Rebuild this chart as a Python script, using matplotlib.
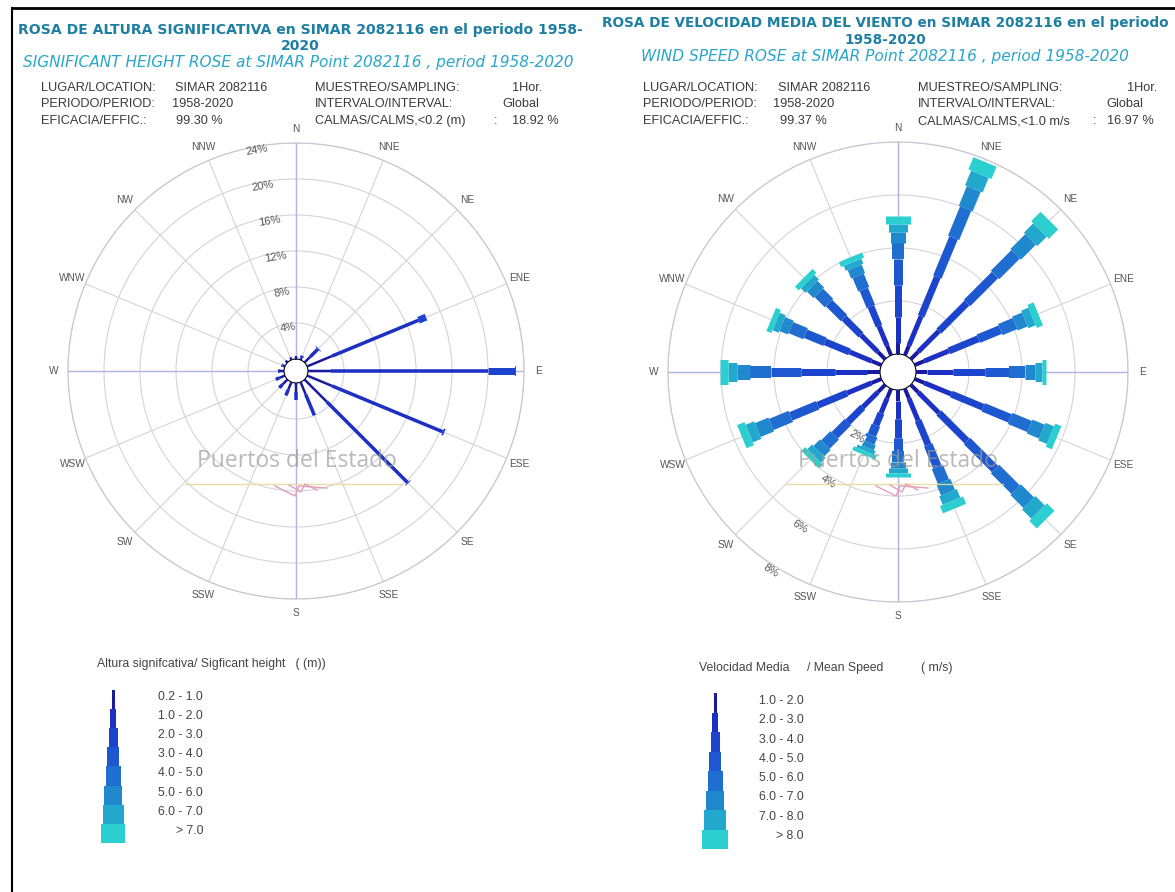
import numpy as np
import matplotlib.pyplot as plt

W, H = 1175, 892
PX = 0.72  # points per pixel at dpi 100

directions = ['N', 'NNE', 'NE', 'ENE', 'E', 'ESE', 'SE', 'SSE',
              'S', 'SSW', 'SW', 'WSW', 'W', 'WNW', 'NW', 'NNW']
angles = np.deg2rad(np.arange(16) * 22.5)

# significant height rose: frequency (%) per direction, per height class
hs_classes = ['0.2 - 1.0', '1.0 - 2.0', '2.0 - 3.0', '3.0 - 4.0',
              '4.0 - 5.0', '5.0 - 6.0', '6.0 - 7.0', '> 7.0']
hs_freq = [
    [0.3],                    # N
    [0.3, 0.2],               # NNE
    [0.9, 1.2, 0.1],          # NE
    [3.0, 10.4, 0.9],         # ENE
    [2.5, 17.5, 3.0, 0.1],    # E
    [3.0, 13.3, 0.2],         # ESE
    [3.5, 12.7, 0.1],         # SE
    [1.5, 2.5],               # SSE
    [1.0, 0.9],               # S
    [0.9, 0.7],               # SSW
    [0.8, 0.5],               # SW
    [0.7, 0.4],               # WSW
    [0.5, 0.2],               # W
    [0.3, 0.1],               # WNW
    [0.3],                    # NW
    [0.3],                    # NNW
]
hs_rings = [4, 8, 12, 16, 20, 24]

# wind speed rose: frequency (%) per direction, per speed class
ws_classes = ['1.0 - 2.0', '2.0 - 3.0', '3.0 - 4.0', '4.0 - 5.0',
              '5.0 - 6.0', '6.0 - 7.0', '7.0 - 8.0', '> 8.0']
ws_freq = [
    [0.4, 1.0, 1.2, 1.0, 0.6, 0.4, 0.3, 0.3],      # N
    [0.4, 1.2, 1.6, 1.6, 1.2, 0.8, 0.6, 0.5],      # NNE
    [0.4, 1.1, 1.5, 1.5, 1.1, 0.8, 0.5, 0.5],      # NE
    [0.4, 1.0, 1.2, 0.9, 0.6, 0.4, 0.3, 0.25],     # ENE
    [0.4, 1.0, 1.2, 0.9, 0.6, 0.4, 0.25, 0.15],    # E
    [0.4, 1.1, 1.3, 1.1, 0.8, 0.5, 0.35, 0.25],    # ESE
    [0.4, 1.1, 1.5, 1.5, 1.1, 0.7, 0.5, 0.4],      # SE
    [0.4, 0.9, 1.0, 0.9, 0.6, 0.45, 0.35, 0.3],    # SSE
    [0.4, 0.7, 0.7, 0.5, 0.4, 0.25, 0.2, 0.15],    # S
    [0.4, 0.6, 0.5, 0.4, 0.3, 0.2, 0.15, 0.15],    # SSW
    [0.4, 0.8, 0.8, 0.7, 0.5, 0.35, 0.25, 0.2],    # SW
    [0.4, 1.0, 1.2, 1.1, 0.8, 0.55, 0.35, 0.3],    # WSW
    [0.5, 1.2, 1.3, 1.1, 0.8, 0.5, 0.35, 0.3],     # W
    [0.4, 0.9, 1.0, 0.8, 0.6, 0.35, 0.25, 0.2],    # WNW
    [0.4, 0.9, 0.9, 0.8, 0.55, 0.35, 0.25, 0.2],   # NW
    [0.4, 0.8, 0.8, 0.7, 0.55, 0.35, 0.2, 0.2],    # NNW
]
ws_rings = [2, 4, 6, 8]

class_colors = ['#1a1a9c', '#1c30c4', '#1d44cc', '#1e58d0',
                '#1f6ed0', '#2088cc', '#22a8cc', '#2ccfcf']
hs_widths = [2.5, 3.5, 7, 10, 13, 16, 20, 24]
ws_widths = [4, 5, 7, 9, 12, 15, 19, 25]

fig = plt.figure(figsize=(W / 100, H / 100), dpi=100)
fig.patch.set_facecolor('white')


def fx(x):
    return x / W


def fy(y):
    return 1 - y / H


def make_rose(cx, cy, R, rmax, hole, freq, widths, rings, lab_bearing, lab_rot, lab_off, boxed):
    ax = fig.add_axes([fx(cx - R), fy(cy + R), 2 * R / W, 2 * R / H], projection='polar')
    ax.set_theta_zero_location('N')
    ax.set_theta_direction(-1)
    r0 = hole * rmax / (R - hole)
    ax.set_ylim(0, rmax)
    ax.set_rorigin(-r0)
    ax.set_xticks(angles)
    ax.set_xticklabels([])
    ax.set_yticks(rings)
    ax.set_yticklabels([])
    ax.grid(True, color='#d3d3dc', lw=0.8)
    ax.spines['polar'].set_color('#c8c8d2')
    ax.spines['polar'].set_linewidth(0.9)
    ax.spines['inner'].set_visible(False)
    ax.set_facecolor('none')

    def r_of(px):
        return -r0 + px / R * (rmax + r0)

    # main axes lines N-S / E-W
    for a in [0, 90, 180, 270]:
        ax.plot([np.deg2rad(a)] * 2, [0, rmax], color='#b4b4e2', lw=1.0, zorder=2)

    # bars
    for th, vals in zip(angles, freq):
        start = 0
        for k, v in enumerate(vals):
            ax.plot([th, th], [start, start + v], color=class_colors[k],
                    lw=widths[k] * PX, solid_capstyle='butt', zorder=3 + k)
            start += v

    # direction labels
    for th, d in zip(angles, directions):
        ax.text(th, r_of(R + 14), d, ha='center', va='center', fontsize=7.3,
                color='#555555', family='Liberation Sans', clip_on=False)

    # ring labels
    for rv in rings:
        rpx = (rv + r0) / (rmax + r0) * R + lab_off
        bb = dict(facecolor='white', edgecolor='none', pad=0.5) if boxed else None
        ax.text(np.deg2rad(lab_bearing), r_of(rpx), f'{rv}%', ha='center', va='center',
                fontsize=8, color='#555555', rotation=lab_rot, family='Liberation Sans',
                bbox=bb, zorder=20, clip_on=False)
    return ax


ax1 = make_rose(296, 371, 228, 24, 12, hs_freq, hs_widths, hs_rings, -10, 10, -4, False)
ax2 = make_rose(898, 372, 230, 8, 18, ws_freq, ws_widths, ws_rings, 212.5, -32, 6, True)

# overlay for texts
ov = fig.add_axes([0, 0, 1, 1], zorder=10)
ov.set_xlim(0, W)
ov.set_ylim(H, 0)
ov.axis('off')
ov.patch.set_alpha(0)

# frame
ov.plot([12, W], [8, 8], color='black', lw=2)
ov.plot([12, 12], [8, H], color='black', lw=1.5)

tcol1 = '#1f7fa2'
tcol2 = '#2aa6c8'
bold = dict(ha='center', va='center', fontweight='bold', color=tcol1, family='DejaVu Sans')
ital = dict(ha='center', va='center', fontsize=11.1, fontstyle='italic', color=tcol2, family='DejaVu Sans')
ov.text(300, 30, 'ROSA DE ALTURA SIGNIFICATIVA en SIMAR 2082116 en el periodo 1958-',
        fontsize=10.1, **bold)
ov.text(300, 46, '2020', fontsize=10.1, **bold)
ov.text(298, 63, 'SIGNIFICANT HEIGHT ROSE at SIMAR Point 2082116 , period 1958-2020', **ital)

ov.text(885, 23, 'ROSA DE VELOCIDAD MEDIA DEL VIENTO en SIMAR 2082116 en el periodo',
        fontsize=9.8, **bold)
ov.text(885, 40, '1958-2020', fontsize=9.8, **bold)
ov.text(885, 57, 'WIND SPEED ROSE at SIMAR Point 2082116 , period 1958-2020', **ital)

icol = '#3a3a3a'
ifont = dict(fontsize=9.2, color=icol, family='Liberation Sans', va='center')
rows = [88, 104, 121]
# left info block
ov.text(41, rows[0], 'LUGAR/LOCATION:', **ifont)
ov.text(175, rows[0], 'SIMAR 2082116', **ifont)
ov.text(41, rows[1], 'PERIODO/PERIOD:', **ifont)
ov.text(172, rows[1], '1958-2020', **ifont)
ov.text(41, rows[2], 'EFICACIA/EFFIC.:', **ifont)
ov.text(176, rows[2], '99.30 %', **ifont)
ov.text(315, rows[0], 'MUESTREO/SAMPLING:', **ifont)
ov.text(512, rows[0], '1Hor.', **ifont)
ov.text(315, rows[1], 'INTERVALO/INTERVAL:', **ifont)
ov.text(502, rows[1], 'Global', **ifont)
ov.text(315, rows[2], 'CALMAS/CALMS,<0.2 (m)', **ifont)
ov.text(494, rows[2], ':', **ifont)
ov.text(512, rows[2], '18.92 %', **ifont)
# right info block
ov.text(643, rows[0], 'LUGAR/LOCATION:', **ifont)
ov.text(778, rows[0], 'SIMAR 2082116', **ifont)
ov.text(643, rows[1], 'PERIODO/PERIOD:', **ifont)
ov.text(773, rows[1], '1958-2020', **ifont)
ov.text(643, rows[2], 'EFICACIA/EFFIC.:', **ifont)
ov.text(780, rows[2], '99.37 %', **ifont)
ov.text(918, rows[0], 'MUESTREO/SAMPLING:', **ifont)
ov.text(1127, rows[0], '1Hor.', **ifont)
ov.text(918, rows[1], 'INTERVALO/INTERVAL:', **ifont)
ov.text(1106, rows[1], 'Global', **ifont)
ov.text(918, rows[2], 'CALMAS/CALMS,<1.0 m/s', **ifont)
ov.text(1093, rows[2], ':', **ifont)
ov.text(1107, rows[2], '16.97 %', **ifont)

# watermark
for cx in [297, 898]:
    ov.text(cx, 461, 'Puertos del Estado', ha='center', va='center', fontsize=16.5,
            color='#9c9c9c', alpha=0.7, family='Open Sans')
    ov.plot([cx - 112, cx + 105], [484, 484], color='#e6dc9a', lw=1.0, alpha=0.9)
    ov.plot([cx - 22, cx - 2, cx + 2, cx + 30], [486, 496, 486, 488], color='#e0a0b8', lw=1.0)
    ov.plot([cx - 8, cx + 4, cx + 8, cx + 20], [485, 492, 484, 490], color='#e0a0b8', lw=1.0)

# legends
lfont = dict(fontsize=8.8, color='#444444', family='Liberation Sans', va='center')
ov.text(97, 664, 'Altura signifcativa/ Sigficant height   ( (m))', **lfont)
seg = 19.1
for k, lab in enumerate(hs_classes):
    ov.bar(113, seg, bottom=690 + k * seg, width=[3, 6, 9, 12, 15, 18, 21, 24][k],
           color=class_colors[k], edgecolor='none')
    ov.text(203, 697 + k * 19.1, lab, ha='right', **lfont)

ov.text(699, 668, 'Velocidad Media', **lfont)
ov.text(807, 668, '/ Mean Speed', **lfont)
ov.text(921, 668, '( m/s)', **lfont)
seg = 19.5
for k, lab in enumerate(ws_classes):
    ov.bar(715, seg, bottom=693 + k * seg, width=[3, 6, 9, 12, 15, 18, 22, 26][k],
           color=class_colors[k], edgecolor='none')
    ov.text(804, 701 + k * 19.3, lab, ha='right', **lfont)

fig.savefig('out.png', dpi=100)
